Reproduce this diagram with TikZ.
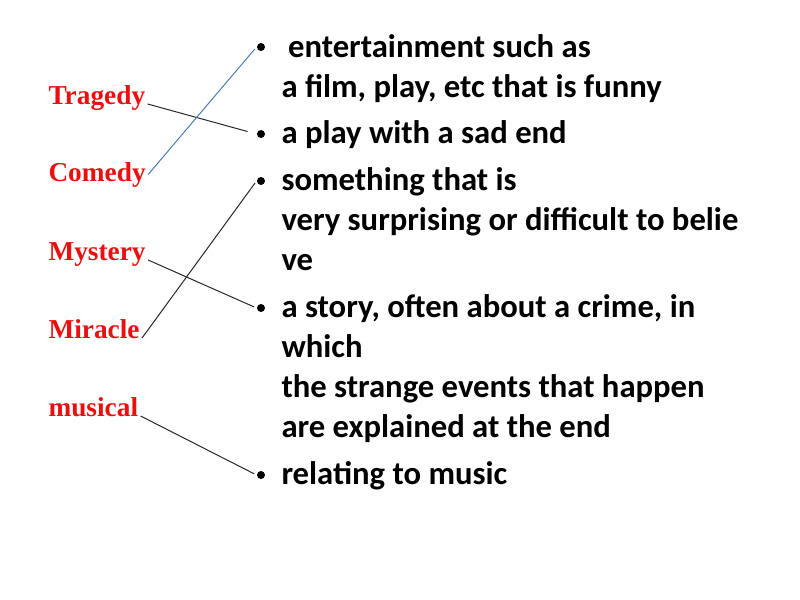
\documentclass[tikz,border=0pt]{standalone}
\usepackage{fontspec}
\newfontfamily\wordfont{Liberation Serif}
\newfontfamily\itemfont{Carlito}
\tikzset{every picture/.style={line width=0.75pt}}
\tikzset{
	word/.style={anchor=base west, inner sep=1.5pt, text={rgb, 255:red, 235; green, 16; blue, 16 }, font=\wordfont\bfseries\fontsize{20.5}{24}\selectfont},
	item/.style={anchor=base west, inner sep=0pt, align=left, font=\itemfont\bfseries\fontsize{24.5}{30}\selectfont},
	dot/.style={circle, fill=black, inner sep=0pt, minimum size=6pt},
	link/.style={draw={rgb, 255:red, 40; green, 40; blue, 40 }, line width=0.75pt, shorten >=2pt}}

\begin{document}
\begin{tikzpicture}[x=0.75pt,y=0.75pt,yscale=-1,xscale=1]
	\useasboundingbox (0,0) rectangle (800,600); %set diagram to 800 x 600

	% Text Node
	\draw (46,104) node[word] (tragedy) {Tragedy};
	% Text Node
	\draw (46,181) node[word] (comedy) {Comedy};
	% Text Node
	\draw (46,260) node[word] (mystery) {Mystery};
	% Text Node
	\draw (46,338) node[word] (miracle) {Miracle};
	% Text Node
	\draw (46,416) node[word] (musical) {musical};

	%Shape: Circle
	\draw (261,47) node[dot] (b1) {};
	%Shape: Circle
	\draw (261,134) node[dot] (b2) {};
	%Shape: Circle
	\draw (261,181) node[dot] (b3) {};
	%Shape: Circle
	\draw (261,308) node[dot] (b4) {};
	%Shape: Circle
	\draw (261,475) node[dot] (b5) {};

	% Text Node (placed by the baseline of its last line)
	\draw (281,97) node[item] (comedyitem) {\hspace{5pt}entertainment such as\\a film, play, etc that is funny};
	% Text Node
	\draw (281,143) node[item] (tragedyitem) {a play with a sad end};
	% Text Node (placed by the baseline of its last line)
	\draw (281,270) node[item] (miracleitem) {something that is\\very surprising or difficult to belie\\ve};
	% Text Node (placed by the baseline of its last line)
	\draw (281,437) node[item] (mysteryitem) {a story, often about a crime, in\\which\\the strange events that happen\\are explained at the end};
	% Text Node
	\draw (281,484) node[item] (musicalitem) {relating to music};

	%Straight Lines
	\draw [link, shorten >=7pt] (tragedy.base east) -- (b2.west) ;
	%Straight Lines
	\draw [link, draw={rgb, 255:red, 74; green, 126; blue, 187 }] (comedy.east) -- (b1.west) ;
	%Straight Lines
	\draw [link] (mystery.base east) -- (b4.west) ;
	%Straight Lines
	\draw [link] (miracle.base east) -- (b3.west) ;
	%Straight Lines
	\draw [link] (musical.base east) -- (b5.west) ;

\end{tikzpicture}
\end{document}
